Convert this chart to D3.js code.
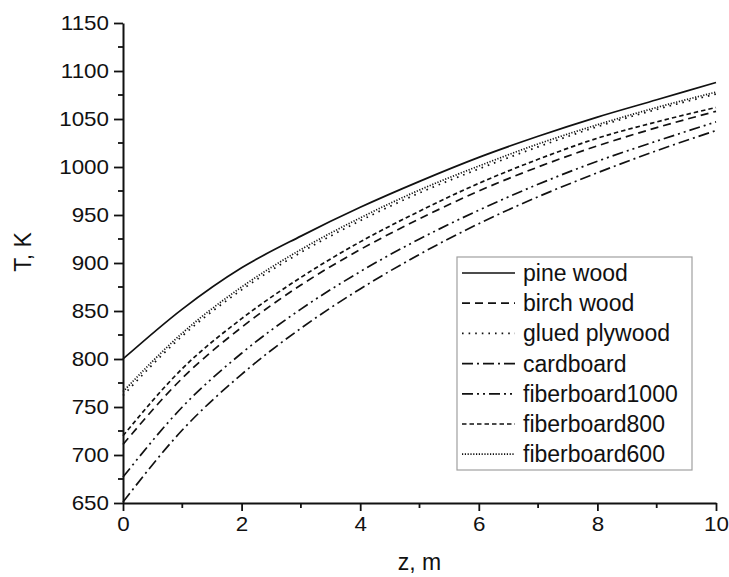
<!DOCTYPE html>
<html><head><meta charset="utf-8">
<script src="https://cdn.jsdelivr.net/npm/d3@7"></script>
<style>body{margin:0;background:#fff}svg{display:block}text{font-family:Arial,"Liberation Sans",sans-serif;fill:#111}</style>
</head><body><svg id="c" width="729" height="577"></svg>
<script>
const zValues = [0,1,2,3,4,5,6,7,8,9,10];
const seriesNames = ["pine wood","birch wood","glued plywood","cardboard","fiberboard1000","fiberboard800","fiberboard600"];
const pineWood      = [800,852,895,928,958,985,1010,1032,1052,1070,1088];
const birchWood     = [711,780,833,877,914,946,975,1000,1022,1041,1058];
const gluedPlywood  = [762,824,872,911,944,973,998,1021,1042,1060,1076];
const cardboard     = [651,726,784,832,873,909,941,969,994,1017,1038];
const fiberboard1000= [677,750,806,852,891,925,955,982,1006,1027,1047];
const fiberboard800 = [720,790,842,885,922,954,983,1008,1030,1047,1062];
const fiberboard600 = [766,827,875,914,947,976,1001,1024,1044,1062,1078];
const xTicks = [0,2,4,6,8,10];
const yTicks = [650,700,750,800,850,900,950,1000,1050,1100,1150];

const allSeries = [pineWood,birchWood,gluedPlywood,cardboard,fiberboard1000,fiberboard800,fiberboard600];
const dashes = ["none","8,5","1.6,5","11,4,2,4","11,4,2,4,2,4","4.5,3","1.2,1.6"];

const svg = d3.select("#c");
const L=123,R=716,T=23,B=503;
const x = d3.scaleLinear().domain([0,10]).range([L,R]);
const y = d3.scaleLinear().domain([650,1150]).range([B,T]);

const line = d3.line().x((d,i)=>x(zValues[i])).y(d=>y(d)).curve(d3.curveMonotoneX);
const g = svg.append("g");
allSeries.forEach((s,k)=>{
  g.append("path").datum(s).attr("d",line).attr("fill","none").attr("stroke","#111")
   .attr("stroke-width",1.7).attr("stroke-dasharray",dashes[k]);
});

// axes
const xAxis = d3.axisBottom(x).tickValues(xTicks).tickFormat(d3.format("d")).tickSize(8).tickSizeOuter(0).tickPadding(6);
const xg = svg.append("g").attr("transform",`translate(0,${B})`).call(xAxis);
const yAxis = d3.axisLeft(y).tickValues(yTicks).tickFormat(d3.format("d")).tickSize(9).tickSizeOuter(0).tickPadding(5);
const yg = svg.append("g").attr("transform",`translate(${L},0)`).call(yAxis);
const sx = 1.12;
[xg,yg].forEach(a=>{
  a.select(".domain").attr("stroke","#111").attr("stroke-width",2);
  a.selectAll(".tick line").attr("stroke","#111").attr("stroke-width",1.8);
  a.selectAll("text").attr("font-size",20).attr("fill","#222").style("font-family","Arial, 'Liberation Sans', sans-serif")
   .each(function(){ const t=d3.select(this); const x0=+t.attr("x")||0; t.attr("x",x0/sx).attr("transform",`scale(${sx},1)`); });
});
// minor ticks
svg.append("g").selectAll("line").data(d3.range(1,10,2)).join("line")
  .attr("x1",d=>x(d)).attr("x2",d=>x(d)).attr("y1",B).attr("y2",B+5).attr("stroke","#111").attr("stroke-width",1.8);
svg.append("g").selectAll("line").data(d3.range(675,1150,50)).join("line")
  .attr("y1",d=>y(d)).attr("y2",d=>y(d)).attr("x1",L).attr("x2",L-5).attr("stroke","#111").attr("stroke-width",1.8);

// titles
svg.append("text").attr("x",(L+R)/2).attr("y",570).attr("text-anchor","middle").attr("font-size",23).text("z, m");
svg.append("text").attr("transform","translate(31,252) rotate(-90)").attr("text-anchor","middle").attr("font-size",23).text("T, K");

// legend
const lx=457, ly=257, lw=235, rowH=30.2;
svg.append("rect").attr("x",lx).attr("y",ly).attr("width",lw).attr("height",213).attr("fill","#fff").attr("stroke","#a0a0a0").attr("stroke-width",1.2);
seriesNames.forEach((n,k)=>{
  const cy = ly+16+k*rowH;
  svg.append("line").attr("x1",lx+5).attr("x2",lx+58).attr("y1",cy).attr("y2",cy).attr("stroke","#111").attr("stroke-width",1.7).attr("stroke-dasharray",dashes[k]);
  svg.append("text").attr("x",lx+66).attr("y",cy).attr("dy","0.35em").attr("font-size",23).text(n);
});
</script></body></html>
